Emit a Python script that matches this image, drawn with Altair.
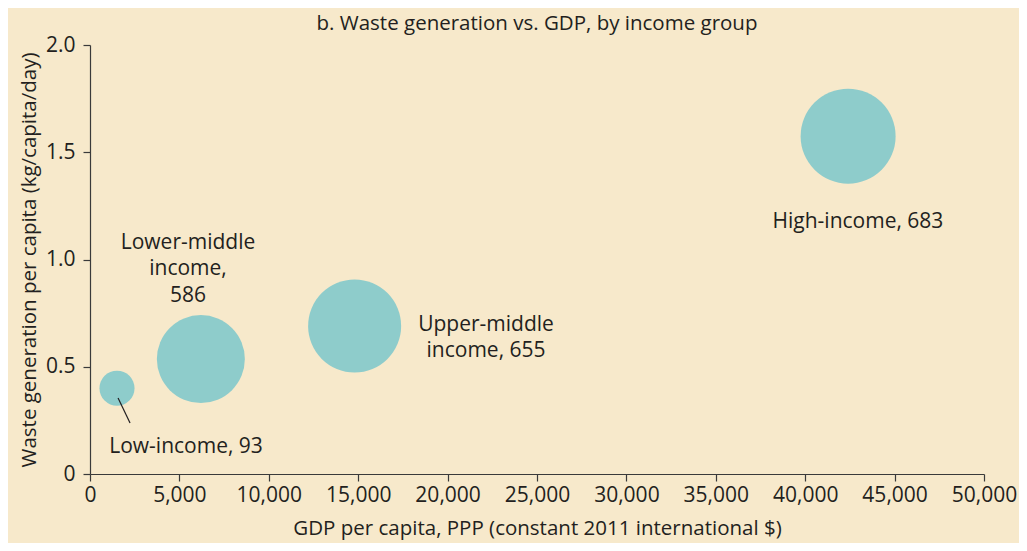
import altair as alt
import pandas as pd

chart_title = ["b. Waste generation vs. GDP, by income group"]

groups = ["Low-income", "Lower-middle income", "Upper-middle income", "High-income"]
gdp = [1510, 6200, 14800, 42400]
waste = [0.40, 0.536, 0.69, 1.575]
population = [93, 586, 655, 683]

label_text = [["Low-income, 93"], ["Lower-middle", "income,", "586"], ["Upper-middle", "income, 655"], ["High-income, 683"]]
label_x = [5370, 5480, 22150, 42950]
label_y = [0.126, 1.077, 0.695, 1.175]

leader_x = [1570]
leader_x2 = [2240]
leader_y = [0.354]
leader_y2 = [0.238]

FONT = "Open Sans"
FS = 21
TXT = "#231F20"
BG = "#F7E9CB"

bubbles = pd.DataFrame({"group": groups, "gdp": gdp, "waste": waste, "pop": population})
labels = pd.DataFrame({"label": label_text, "x": label_x, "y": label_y})
leader = pd.DataFrame({"x": leader_x, "x2": leader_x2, "y": leader_y, "y2": leader_y2})
title_df = pd.DataFrame({"t": chart_title})

xscale = alt.Scale(domain=[0, 50000], nice=False, zero=True)
yscale = alt.Scale(domain=[0, 2.0], nice=False)

points = alt.Chart(bubbles).mark_circle(color="#8ECCCB", opacity=1).encode(
    x=alt.X("gdp:Q", scale=xscale,
            axis=alt.Axis(title="GDP per capita, PPP (constant 2011 international $)",
                          values=list(range(0, 50001, 5000)), format=",d",
                          labelFlush=False, labelOverlap=False, titleFontSize=20.5,
                          tickSize=7, labelPadding=3, titlePadding=13)),
    y=alt.Y("waste:Q", scale=yscale,
            axis=alt.Axis(title="Waste generation per capita (kg/capita/day)",
                          values=[0, 0.5, 1.0, 1.5, 2.0],
                          labelExpr="datum.value == 0 ? '0' : format(datum.value, '.1f')",
                          labelFlush=False, labelOverlap=False, titleFontSize=20.5,
                          tickSize=7, labelPadding=8, titlePadding=6)),
    size=alt.Size("pop:Q", scale=alt.Scale(domain=[0, 683], range=[0, 9025]), legend=None),
)

rule = alt.Chart(leader).mark_rule(color=TXT, strokeWidth=1.2).encode(
    x="x:Q", x2="x2:Q", y="y:Q", y2="y2:Q"
)

text = alt.Chart(labels).mark_text(font=FONT, fontSize=21, color=TXT, align="center",
                                   baseline="middle", lineHeight=26.5).encode(
    x="x:Q", y="y:Q", text="label"
)

title = alt.Chart(title_df).mark_text(font=FONT, fontSize=20.5, color=TXT, align="center",
                                      baseline="middle").encode(
    x=alt.value(447), y=alt.value(-21), text="t:N"
)

chart = alt.layer(points, rule, text, title).properties(
    width=894, height=429,
    autosize=alt.AutoSizeParams(type="none"),
    padding={"left": 82, "top": 37, "right": 35, "bottom": 69},
    background=BG,
).configure_view(stroke=None).configure_axis(
    grid=False, domainColor="#3a3a3a", tickColor="#3a3a3a", domainWidth=1.2, tickWidth=1.2,
    labelFont=FONT, labelFontSize=FS, labelColor=TXT, titleFont=FONT, titleFontSize=FS,
    titleFontWeight="normal", titleColor=TXT
)

chart.save("out.html", embed_options={"renderer": "svg", "actions": False})
